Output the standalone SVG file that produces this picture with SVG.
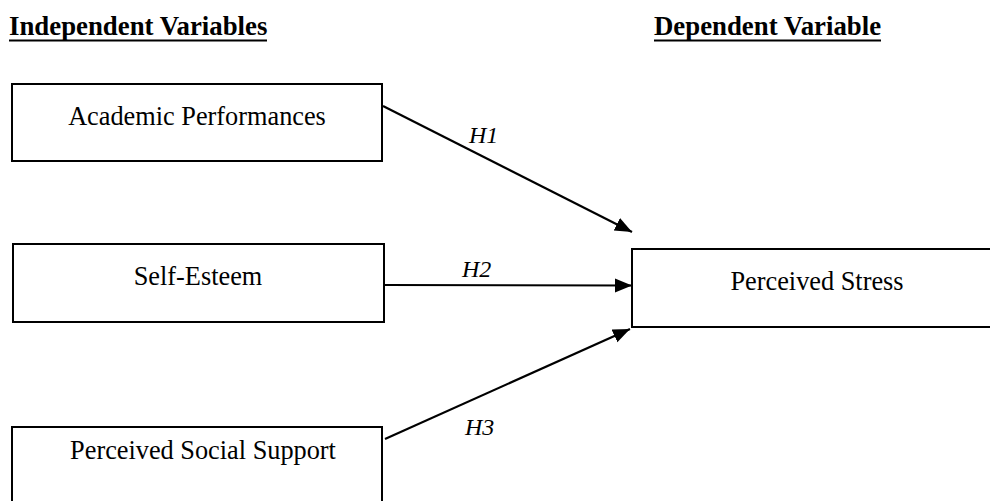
<svg xmlns="http://www.w3.org/2000/svg" width="990" height="501" viewBox="0 0 990 501">
<defs>
<style>
.box{fill:#fff;stroke:#000;stroke-width:2}
.t{font-family:"Liberation Serif","Times New Roman",serif;font-size:26.3px;fill:#000;text-anchor:middle}
.h{font-family:"Liberation Serif","Times New Roman",serif;font-size:26.8px;font-weight:bold;fill:#000}
.lab{font-family:"Liberation Serif","Times New Roman",serif;font-size:24px;font-style:italic;fill:#000}
.ul{stroke:#000;stroke-width:2}
.c{stroke:#000;stroke-width:2.2;fill:none;marker-end:url(#arr)}
</style>
<marker id="arr" markerUnits="userSpaceOnUse" markerWidth="18" markerHeight="15" refX="17" refY="7" orient="auto">
<path d="M0,0 L17,7 L0,14 z" fill="#000"/>
</marker>
</defs>
<rect width="990" height="501" fill="#fff"/>
<g id="headings">
<text class="h" x="9" y="35">Independent Variables</text>
<line class="ul" x1="9" y1="40.5" x2="267" y2="40.5"/>
<text class="h" x="654" y="35">Dependent Variable</text>
<line class="ul" x1="654" y1="40.5" x2="881" y2="40.5"/>
</g>
<g id="academic">
<rect class="box" x="12" y="84" width="370" height="77"/>
<text class="t" x="197" y="125">Academic Performances</text>
</g>
<g id="selfesteem">
<rect class="box" x="13" y="244" width="371" height="78"/>
<text class="t" x="198" y="285">Self-Esteem</text>
</g>
<g id="social">
<rect class="box" x="12" y="427" width="370" height="82"/>
<text class="t" x="203" y="459">Perceived Social Support</text>
</g>
<g id="stress">
<rect class="box" x="632" y="249" width="372" height="78"/>
<text class="t" x="817" y="290">Perceived Stress</text>
</g>
<g id="connectors">
<line class="c" x1="383" y1="106" x2="632" y2="232"/>
<line class="c" x1="384" y1="285" x2="632" y2="285.5"/>
<line class="c" x1="385" y1="439" x2="630" y2="329"/>
<text class="lab" x="469" y="143">H1</text>
<text class="lab" x="462" y="277">H2</text>
<text class="lab" x="465" y="435">H3</text>
</g>
</svg>
